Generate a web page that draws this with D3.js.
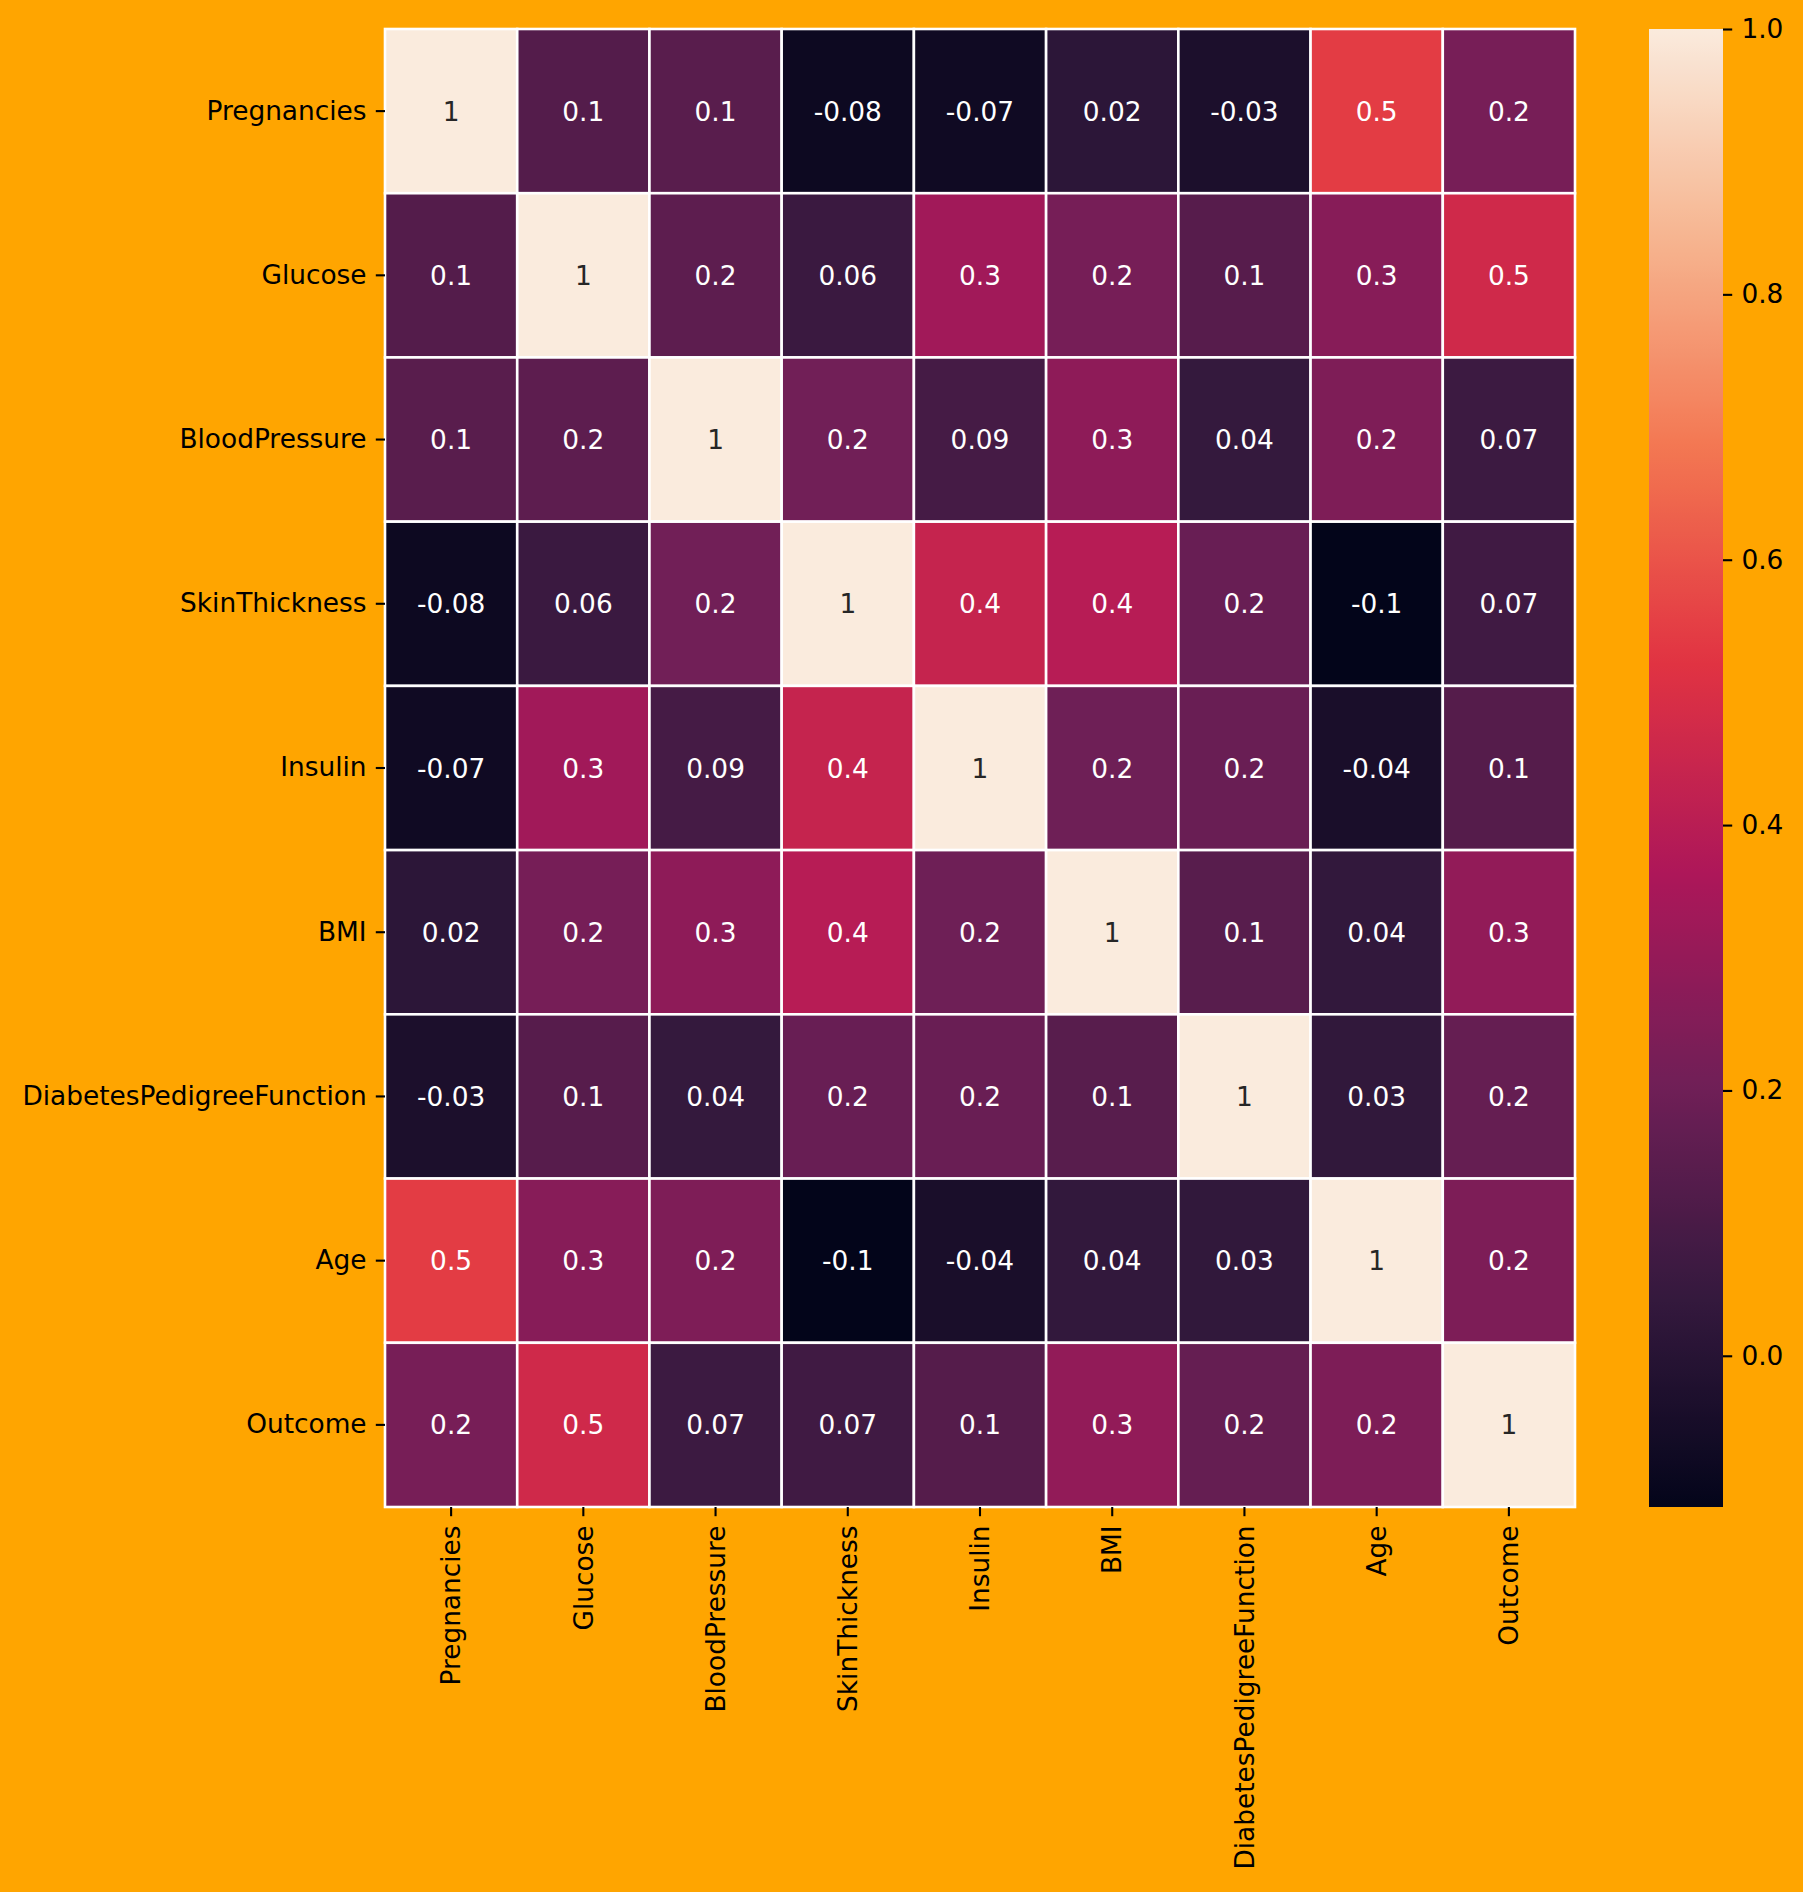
<!DOCTYPE html>
<html>
<head>
<meta charset="utf-8">
<script src="https://cdn.jsdelivr.net/npm/d3@7"></script>
<style>
html, body { margin: 0; padding: 0; background: #FFA500; }
svg { display: block; }
text { font-family: "DejaVu Sans", sans-serif; }
</style>
</head>
<body>
<svg id="chart" width="1803" height="1892"></svg>
<script>
// ---- data ----
const variables = ["Pregnancies", "Glucose", "BloodPressure", "SkinThickness", "Insulin", "BMI", "DiabetesPedigreeFunction", "Age", "Outcome"];
const rowPregnancies   = [1, 0.129459, 0.141282, -0.081672, -0.073535, 0.017683, -0.033523, 0.544341, 0.221898];
const rowGlucose       = [0.129459, 1, 0.152590, 0.057328, 0.331357, 0.221071, 0.137337, 0.263514, 0.466581];
const rowBloodPressure = [0.141282, 0.152590, 1, 0.207371, 0.088933, 0.281805, 0.041265, 0.239528, 0.065068];
const rowSkinThickness = [-0.081672, 0.057328, 0.207371, 1, 0.436783, 0.392573, 0.183928, -0.113970, 0.074752];
const rowInsulin       = [-0.073535, 0.331357, 0.088933, 0.436783, 1, 0.197859, 0.185071, -0.042163, 0.130548];
const rowBMI           = [0.017683, 0.221071, 0.281805, 0.392573, 0.197859, 1, 0.140647, 0.036242, 0.292695];
const rowDPF           = [-0.033523, 0.137337, 0.041265, 0.183928, 0.185071, 0.140647, 1, 0.033561, 0.173844];
const rowAge           = [0.544341, 0.263514, 0.239528, -0.113970, -0.042163, 0.036242, 0.033561, 1, 0.238356];
const rowOutcome       = [0.221898, 0.466581, 0.065068, 0.074752, 0.130548, 0.292695, 0.173844, 0.238356, 1];
const colorbarTicks = [0.0, 0.2, 0.4, 0.6, 0.8, 1.0];

const rows = [rowPregnancies, rowGlucose, rowBloodPressure, rowSkinThickness, rowInsulin, rowBMI, rowDPF, rowAge, rowOutcome];

// ---- rocket colormap approximation ----
const rocketStops = ["#03051a", "#35193e", "#701f57", "#ad1759", "#e13342", "#f37651", "#f6b48f", "#faebdd"];
const rocketPos = [0, 1/7, 2/7, 3/7, 4/7, 5/7, 6/7, 1];
const rocket = d3.scaleLinear().domain(rocketPos).range(rocketStops).interpolate(d3.interpolateRgb).clamp(true);

const allVals = rows.flat();
const vmin = d3.min(allVals), vmax = d3.max(allVals);
const norm = d3.scaleLinear().domain([vmin, vmax]).range([0, 1]).clamp(true);
const color = v => rocket(norm(v));

// ---- layout ----
const FS = 26.4, TICK = 9.2;
const svg = d3.select("#chart");
const plotLeft = 385, plotTop = 29, plotRight = 1575, plotBottom = 1507;
const x = d3.scaleBand().domain(variables).range([plotLeft, plotRight]).padding(0);
const y = d3.scaleBand().domain(variables).range([plotTop, plotBottom]).padding(0);

const cells = [];
rows.forEach((r, i) => r.forEach((v, j) => cells.push({row: variables[i], col: variables[j], v})));

svg.append("rect").attr("width", 1803).attr("height", 1892).attr("fill", "#FFA500");

const g = svg.append("g");
g.selectAll("rect.cell").data(cells).join("rect")
  .attr("class", "cell")
  .attr("x", d => x(d.col)).attr("y", d => y(d.row))
  .attr("width", x.bandwidth()).attr("height", y.bandwidth())
  .attr("fill", d => color(d.v))
  .attr("stroke", "#ffffff").attr("stroke-width", 2.6);

function fmt1g(v) {
  if (v === 0) return "0";
  return String(Number(v.toPrecision(1)));
}
function lum(c) {
  const rgb = d3.rgb(c);
  const f = u => { u /= 255; return u <= 0.03928 ? u / 12.92 : Math.pow((u + 0.055) / 1.055, 2.4); };
  return 0.2126 * f(rgb.r) + 0.7152 * f(rgb.g) + 0.0722 * f(rgb.b);
}

g.selectAll("text.annot").data(cells).join("text")
  .attr("class", "annot")
  .attr("x", d => x(d.col) + x.bandwidth() / 2)
  .attr("y", d => y(d.row) + y.bandwidth() / 2)
  .attr("text-anchor", "middle").attr("dominant-baseline", "central")
  .attr("font-size", FS)
  .attr("fill", d => lum(color(d.v)) > 0.408 ? "#262626" : "#ffffff")
  .text(d => fmt1g(d.v));

// axes
const yAxis = d3.axisLeft(y).tickSize(TICK).tickPadding(TICK);
const yg = svg.append("g").attr("transform", `translate(${plotLeft},0)`).call(yAxis);
yg.select(".domain").remove();
yg.selectAll(".tick line").attr("stroke", "#000").attr("stroke-width", 2.1);
yg.selectAll(".tick text").attr("font-size", FS).attr("fill", "#000").attr("font-family", "DejaVu Sans, sans-serif");

const xAxis = d3.axisBottom(x).tickSize(TICK).tickPadding(0);
const xg = svg.append("g").attr("transform", `translate(0,${plotBottom})`).call(xAxis);
xg.select(".domain").remove();
xg.selectAll(".tick line").attr("stroke", "#000").attr("stroke-width", 2.1);
xg.selectAll(".tick text")
  .attr("font-size", FS).attr("fill", "#000").attr("font-family", "DejaVu Sans, sans-serif")
  .attr("transform", `translate(0,${TICK * 2}) rotate(-90)`)
  .attr("text-anchor", "end").attr("dy", "0.35em").attr("x", 0).attr("y", 0);

// colorbar
const cbLeft = 1649, cbWidth = 74;
const cbScale = d3.scaleLinear().domain([vmin, vmax]).range([plotBottom, plotTop]);
const defs = svg.append("defs");
const grad = defs.append("linearGradient").attr("id", "cbgrad")
  .attr("x1", 0).attr("y1", 1).attr("x2", 0).attr("y2", 0);
d3.range(0, 101).forEach(k => {
  const t = k / 100;
  grad.append("stop").attr("offset", t).attr("stop-color", rocket(t));
});
svg.append("rect").attr("x", cbLeft).attr("y", plotTop).attr("width", cbWidth).attr("height", plotBottom - plotTop)
  .attr("fill", "url(#cbgrad)");
const cbAxis = d3.axisRight(cbScale).tickValues(colorbarTicks).tickFormat(d3.format(".1f")).tickSize(TICK).tickPadding(TICK);
const cg = svg.append("g").attr("transform", `translate(${cbLeft + cbWidth},0)`).call(cbAxis);
cg.select(".domain").remove();
cg.selectAll(".tick line").attr("stroke", "#000").attr("stroke-width", 2.1);
cg.selectAll(".tick text").attr("font-size", FS).attr("fill", "#000").attr("font-family", "DejaVu Sans, sans-serif");
</script>
</body>
</html>
